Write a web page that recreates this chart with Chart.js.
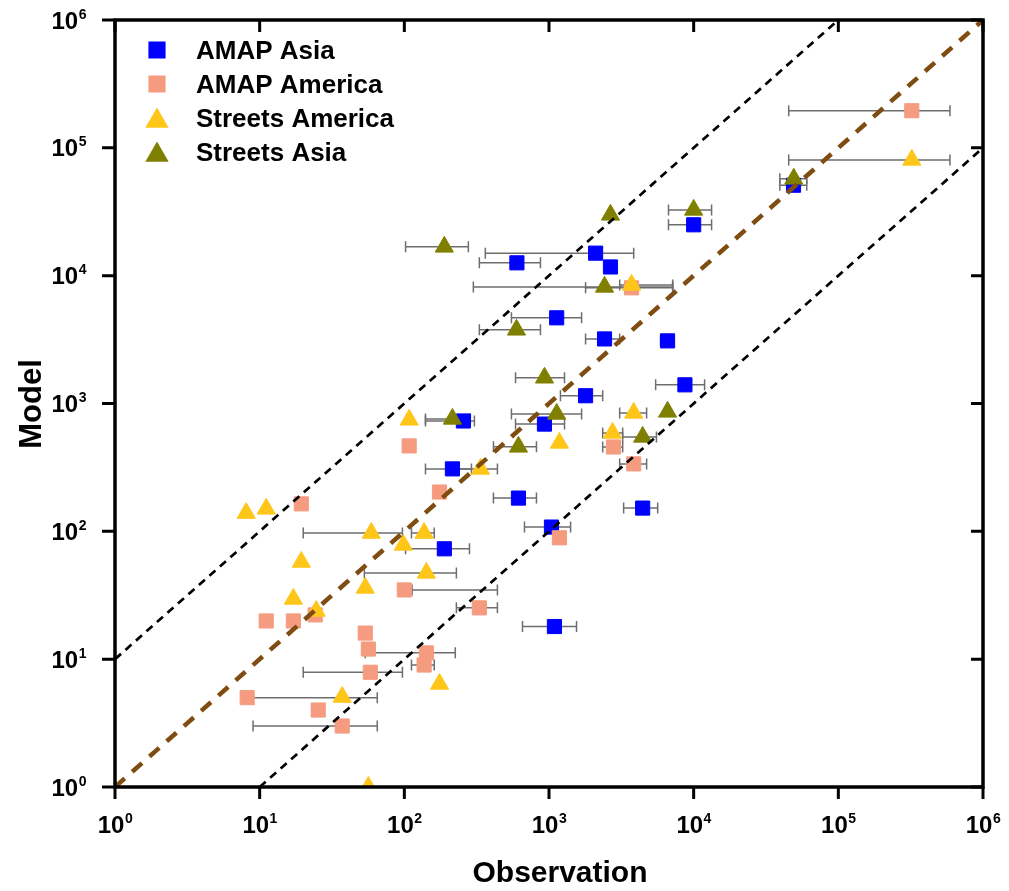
<!DOCTYPE html>
<html>
<head>
<meta charset="utf-8">
<script src="https://cdn.jsdelivr.net/npm/chart.js@4"></script>
<style>
  body { margin: 0; background: #fff; }
  #wrap { width: 1009px; height: 891px; }
</style>
</head>
<body>
<div id="wrap"><canvas id="chart" width="1009" height="891"></canvas></div>
<script>
// Data (observation / model, horizontal error bar low / high)
const amapAsiaObs = [49000, 10000, 2100, 2660, 600, 1130, 2420, 6600, 8700, 1790, 256, 930, 215, 615, 4440, 1040, 189, 1090];
const amapAsiaMod = [51000, 25000, 15000, 11700, 12600, 4680, 3200, 3090, 1400, 1150, 730, 690, 308, 182, 152, 108, 73, 18];
const amapAsiaLo  = [39400, 6700, 363, null, 330, 550, 1790, 5900, 5460, 1200, 140, 587, 140, 413, 3280, 677, 102, 656];
const amapAsiaHi  = [60500, 13300, 3850, null, 873, 1680, 3080, 7270, 11900, 2350, 305, 1280, 291, 819, 5640, 1410, 282, 1550];

const amapAmericaObs = [322000, 3720, 108, 2790, 3850, 175, 1180, 19.4, 100, 330, 11.1, 17.1, 24.2, 53.7, 56.4, 142, 137, 58.2, 8.2, 25.4, 37.2];
const amapAmericaMod = [195000, 8030, 466, 457, 337, 203, 89, 164, 34.8, 25.2, 19.9, 19.9, 22.2, 16, 12, 11.2, 9, 7.9, 5, 4, 3];
const amapAmericaLo  = [45400, 1790, null, 2350, 3080, null, null, null, 113, 229, null, null, null, null, null, 53.7, 112, 20, 8.9, null, 9];
const amapAmericaHi  = [591000, 7160, null, 3230, 4730, null, null, null, 440, 440, null, null, null, null, null, 225, 161, 97, 65, null, 65];

const streetsAmericaObs = [322000, 3720, 108, 3850, 2750, 1180, 336, 137, 59.1, 98.4, 142, 53.7, 19.4, 17.1, 24.6, 8.07, 11.1, 37.2, 175, 56.4];
const streetsAmericaMod = [80500, 8470, 745, 844, 589, 492, 308, 97, 97, 78.3, 47.3, 36.1, 57.6, 29.6, 23.8, 139, 150, 5.06, 6.4, 1.0];
const streetsAmericaLo  = [45400, 3080, null, 3080, 2350, null, 229, 112, 20, null, 52.9, null, null, null, null, null, null, null, null, null];
const streetsAmericaHi  = [591000, 7160, null, 4730, 3230, null, 440, 161, 97, null, 229, null, null, null, null, null, null, null, null, null];

const streetsAsiaObs = [49200, 10000, 2660, 189, 2420, 596, 931, 215, 1130, 6600, 4440, 615];
const streetsAsiaMod = [57200, 32700, 29900, 16800, 8170, 3770, 1590, 758, 829, 860, 548, 458];
const streetsAsiaLo  = [39400, 6700, null, 102, 300, 330, 587, 140, 550, null, 3230, 413];
const streetsAsiaHi  = [60500, 13300, null, 277, 7160, 873, 1280, 286, 1680, null, 5530, 819];

// axis decades
const tickExps = [0, 1, 2, 3, 4, 5, 6];

const FONT = '"Liberation Sans", Arial, sans-serif';

function pts(xs, ys) {
  return xs.map((x, i) => ({ x: x, y: ys[i] }));
}

function scatterSet(label, xs, ys, lo, hi, color, style, r, order) {
  return {
    label: label,
    data: pts(xs, ys),
    errLo: lo,
    errHi: hi,
    backgroundColor: color,
    borderColor: color,
    borderWidth: 1,
    pointStyle: style,
    pointRadius: r,
    pointHoverRadius: r,
    clip: 0,
    order: order
  };
}

function refLine(x0, y0, x1, y1, color, width, dash) {
  return {
    label: "",
    data: [{ x: x0, y: y0 }, { x: x1, y: y1 }],
    showLine: true,
    borderColor: color,
    borderWidth: width,
    borderDash: dash,
    pointRadius: 0,
    order: 0,
    isRef: true
  };
}

const datasets = [
  scatterSet("AMAP Asia", amapAsiaObs, amapAsiaMod, amapAsiaLo, amapAsiaHi, "#0000ff", "rect", 10, 4),
  scatterSet("AMAP America", amapAmericaObs, amapAmericaMod, amapAmericaLo, amapAmericaHi, "#f59c80", "rect", 10, 3),
  scatterSet("Streets America", streetsAmericaObs, streetsAmericaMod, streetsAmericaLo, streetsAmericaHi, "#ffc61a", "triangle", 10.5, 2),
  scatterSet("Streets Asia", streetsAsiaObs, streetsAsiaMod, streetsAsiaLo, streetsAsiaHi, "#808000", "triangle", 10.5, 1),
  refLine(1, 10, 1e5, 1e6, "#000", 2.7, [8, 6]),
  refLine(10, 1, 1e6, 1e5, "#000", 2.7, [8, 6]),
  refLine(1, 1, 1e6, 1e6, "#7f4c12", 4.5, [13, 10])
];

// draws "10" with superscript exponent
function drawPow(ctx, exp, x, y, align) {
  ctx.font = "bold 24px " + FONT;
  const wb = ctx.measureText("10").width;
  ctx.font = "bold 14px " + FONT;
  const we = ctx.measureText(String(exp)).width;
  let left = x;
  if (align === "center") left = x - (wb + we) / 2;
  if (align === "right") left = x - (wb + we);
  ctx.textAlign = "left";
  ctx.textBaseline = "alphabetic";
  ctx.font = "bold 24px " + FONT;
  ctx.fillText("10", left, y);
  ctx.font = "bold 14px " + FONT;
  ctx.fillText(String(exp), left + wb + 0.5, y - 10);
}

const decor = {
  id: "decor",
  beforeDatasetsDraw(chart) {
    const ctx = chart.ctx, xs = chart.scales.x, ys = chart.scales.y;
    ctx.save();
    ctx.strokeStyle = "#6e6e6e";
    ctx.lineWidth = 1.5;
    chart.data.datasets.forEach(ds => {
      if (!ds.errLo) return;
      ds.data.forEach((p, i) => {
        if (ds.errLo[i] == null) return;
        const y = ys.getPixelForValue(p.y);
        const a = xs.getPixelForValue(ds.errLo[i]);
        const b = xs.getPixelForValue(ds.errHi[i]);
        ctx.beginPath();
        ctx.moveTo(a, y); ctx.lineTo(b, y);
        ctx.moveTo(a, y - 5.5); ctx.lineTo(a, y + 5.5);
        ctx.moveTo(b, y - 5.5); ctx.lineTo(b, y + 5.5);
        ctx.stroke();
      });
    });
    ctx.restore();
  },
  afterDraw(chart) {
    const ctx = chart.ctx, xs = chart.scales.x, ys = chart.scales.y;
    const a = chart.chartArea;
    ctx.save();
    ctx.fillStyle = "#000";
    ctx.strokeStyle = "#000";

    // frame
    ctx.lineWidth = 3.5;
    ctx.strokeRect(a.left, a.top, a.right - a.left, a.bottom - a.top);

    // ticks
    ctx.lineWidth = 3;
    tickExps.forEach(e => {
      const v = Math.pow(10, e);
      const px = xs.getPixelForValue(v);
      const py = ys.getPixelForValue(v);
      ctx.beginPath();
      ctx.moveTo(px, a.bottom); ctx.lineTo(px, a.bottom + 12);
      ctx.moveTo(px, a.top); ctx.lineTo(px, a.top + 12);
      ctx.moveTo(a.left, py); ctx.lineTo(a.left - 13, py);
      ctx.moveTo(a.right, py); ctx.lineTo(a.right - 12, py);
      ctx.stroke();
      drawPow(ctx, e, px, a.bottom + 46, "center");
      drawPow(ctx, e, a.left - 29, py + 8.5, "right");
    });

    // axis titles
    ctx.font = "bold 30px " + FONT;
    ctx.textAlign = "center";
    ctx.textBaseline = "alphabetic";
    ctx.fillText("Observation", 560, 882);
    ctx.save();
    ctx.translate(41, 404);
    ctx.rotate(-Math.PI / 2);
    ctx.font = "bold 31px " + FONT;
    ctx.fillText("Model", 0, 0);
    ctx.restore();

    // legend
    const rows = [50, 84, 118, 152];
    ctx.font = "bold 26px " + FONT;
    ctx.textAlign = "left";
    chart.data.datasets.filter(d => !d.isRef).forEach((d, i) => {
      ctx.fillStyle = d.backgroundColor;
      ctx.strokeStyle = d.borderColor;
      const yy = d.pointStyle === "triangle" ? rows[i] + 3 : rows[i];
      Chart.helpers.drawPoint(ctx, { pointStyle: d.pointStyle, radius: d.pointRadius, borderWidth: 1 }, 157, yy);
      ctx.fillStyle = "#000";
      ctx.fillText(d.label, 196, rows[i] + 9);
    });
    ctx.restore();
  }
};

new Chart(document.getElementById("chart"), {
  type: "scatter",
  data: { datasets: datasets },
  options: {
    responsive: false,
    animation: false,
    layout: { padding: { left: 115, right: 26, top: 20, bottom: 104 } },
    scales: {
      x: { type: "logarithmic", min: 1, max: 1e6, display: false },
      y: { type: "logarithmic", min: 1, max: 1e6, display: false }
    },
    plugins: {
      legend: { display: false },
      tooltip: { enabled: false }
    }
  },
  plugins: [decor]
});
</script>
</body>
</html>
